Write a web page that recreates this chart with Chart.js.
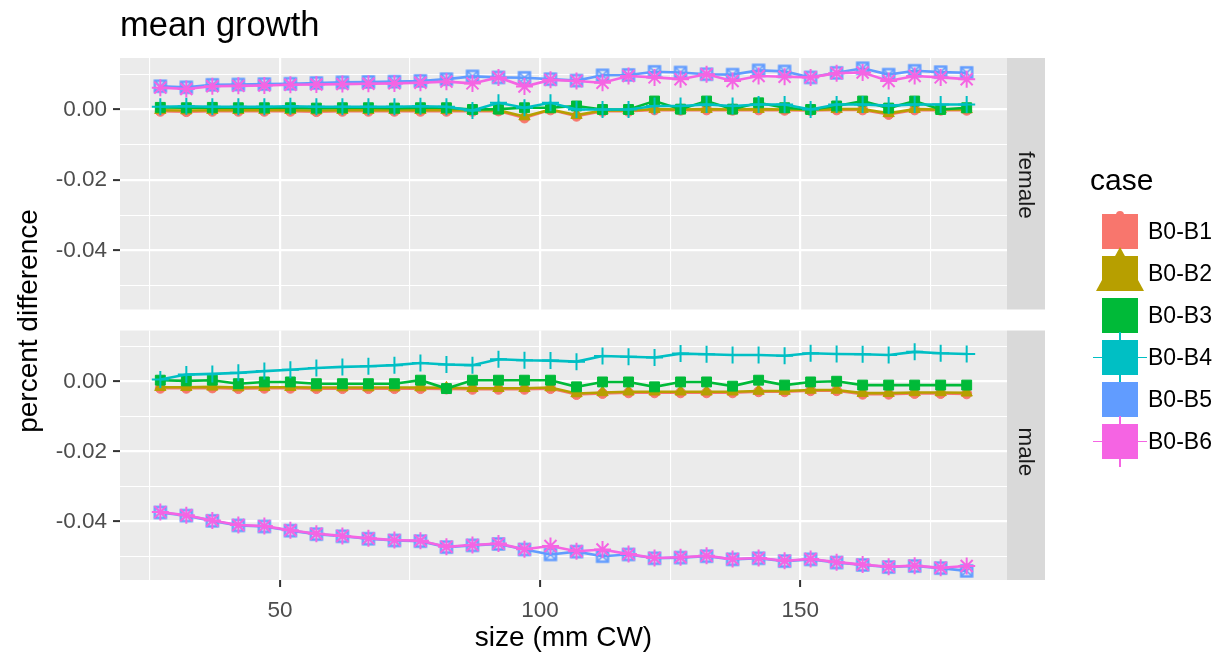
<!DOCTYPE html>
<html><head><meta charset="utf-8">
<script src="https://cdn.jsdelivr.net/npm/chart.js@4"></script>
<style>
body{margin:0;background:#fff;font-family:"Liberation Sans",Arial,Helvetica,sans-serif;}
#wrap{position:relative;width:1225px;height:660px;overflow:hidden;background:#fff;}
.abs{position:absolute;}
.rot{position:absolute;white-space:nowrap;text-align:center;}
.key{position:absolute;width:36px;height:35px;}
.lbl{position:absolute;font-size:23px;color:#000;height:35px;line-height:35px;}
</style></head><body>
<div id="wrap">
  <div class="abs" style="left:0;top:0;width:1225px;height:320px"><canvas id="cTop" width="1225" height="320"></canvas></div>
  <div class="abs" style="left:0;top:320px;width:1225px;height:340px"><canvas id="cBot" width="1225" height="340"></canvas></div>
  <div class="abs" style="left:120px;top:5px;font-size:34.5px;color:#000;">mean growth</div>
  <div class="rot" style="left:-172px;top:304px;width:400px;font-size:28px;line-height:34px;transform:rotate(-90deg);color:#000;">percent difference</div>
  <div class="rot" id="stripF" style="left:926px;top:172px;width:200px;font-size:22.5px;line-height:26px;transform:rotate(90deg);color:#1A1A1A;">female</div>
  <div class="rot" id="stripM" style="left:926px;top:439px;width:200px;font-size:22.5px;line-height:26px;transform:rotate(90deg);color:#1A1A1A;">male</div>
  <div class="abs" style="left:1090px;top:165px;font-size:30px;line-height:30px;color:#000;">case</div>
  <div id="legend"></div>
</div>
<script>
// ---------- data ----------
const sizes = [27,32,37,42,47,52,57,62,67,72,77,82,87,92,97,102,107,112,117,122,127,132,137,142,147,152,157,162,167,172,177,182];
const caseNames = ['B0-B1','B0-B2','B0-B3','B0-B4','B0-B5','B0-B6'];

const femaleB1 = [-0.0005,-0.0006,-0.0005,-0.0005,-0.0005,-0.0005,-0.0006,-0.0005,-0.0005,-0.0005,-0.0005,-0.0005,-0.0005,-0.0004,-0.0024,-0.0001,-0.0019,-0.0005,-0.0005,-0.0001,-0.0002,-0.0001,-0.0002,-0.0001,-0.0002,-0.0003,-0.0001,-0.0001,-0.0014,-0.0001,-0.0002,-0.0002];
const femaleB2 = [-0.0002,-0.0003,-0.0002,-0.0002,-0.0002,-0.0002,-0.0003,-0.0002,-0.0002,-0.0002,-0.0002,-0.0002,-0.0002,-0.0002,-0.0020,0.0000,-0.0016,-0.0003,-0.0003,0.0001,0.0000,0.0001,0.0000,0.0001,0.0000,-0.0001,0.0001,0.0001,-0.0011,0.0001,0.0000,0.0000];
const femaleB3 = [0.0006,0.0005,0.0006,0.0005,0.0005,0.0005,0.0004,0.0005,0.0005,0.0004,0.0005,0.0005,0.0000,0.0001,0.0005,0.0005,0.0010,0.0000,0.0000,0.0024,0.0001,0.0024,0.0001,0.0019,0.0005,0.0000,0.0010,0.0024,0.0004,0.0024,0.0000,0.0005];
const femaleB4 = [0.0008,0.0009,0.0008,0.0008,0.0008,0.0009,0.0008,0.0008,0.0008,0.0008,0.0009,0.0008,-0.0003,0.0019,0.0005,0.0019,0.0000,0.0000,0.0000,0.0010,0.0010,0.0014,0.0010,0.0014,0.0014,0.0000,0.0014,0.0014,0.0011,0.0014,0.0014,0.0014];
const femaleB5 = [0.0066,0.0063,0.0070,0.0071,0.0072,0.0073,0.0075,0.0077,0.0078,0.0079,0.0081,0.0086,0.0094,0.0091,0.0090,0.0086,0.0082,0.0097,0.0098,0.0107,0.0105,0.0100,0.0099,0.0111,0.0108,0.0091,0.0104,0.0117,0.0099,0.0110,0.0106,0.0104];
const femaleB6 = [0.0062,0.0058,0.0066,0.0067,0.0068,0.0070,0.0071,0.0072,0.0073,0.0074,0.0076,0.0079,0.0074,0.0091,0.0065,0.0084,0.0081,0.0076,0.0095,0.0091,0.0086,0.0100,0.0081,0.0095,0.0093,0.0091,0.0103,0.0105,0.0081,0.0095,0.0091,0.0086];

const maleB1 = [-0.0019,-0.0019,-0.0018,-0.0020,-0.0019,-0.0019,-0.0020,-0.0020,-0.0020,-0.0020,-0.0020,-0.0021,-0.0022,-0.0022,-0.0022,-0.0020,-0.0037,-0.0034,-0.0032,-0.0032,-0.0032,-0.0032,-0.0032,-0.0029,-0.0029,-0.0026,-0.0026,-0.0036,-0.0036,-0.0034,-0.0034,-0.0035];
const maleB2 = [-0.0016,-0.0016,-0.0015,-0.0017,-0.0016,-0.0016,-0.0017,-0.0017,-0.0017,-0.0017,-0.0017,-0.0018,-0.0019,-0.0019,-0.0019,-0.0017,-0.0034,-0.0031,-0.0029,-0.0029,-0.0029,-0.0029,-0.0029,-0.0027,-0.0027,-0.0024,-0.0024,-0.0033,-0.0033,-0.0031,-0.0031,-0.0032];
const maleB3 = [0.0004,0.0002,0.0004,-0.0006,-0.0001,-0.0001,-0.0006,-0.0006,-0.0006,-0.0006,0.0004,-0.0020,0.0004,0.0004,0.0004,0.0004,-0.0015,-0.0001,-0.0001,-0.0015,-0.0001,-0.0001,-0.0013,0.0004,-0.0010,-0.0001,0.0001,-0.0010,-0.0010,-0.0010,-0.0010,-0.0010];
const maleB4 = [0.0006,0.0020,0.0022,0.0025,0.0030,0.0034,0.0039,0.0042,0.0044,0.0047,0.0053,0.0049,0.0047,0.0064,0.0061,0.0060,0.0057,0.0073,0.0071,0.0069,0.0080,0.0078,0.0076,0.0076,0.0074,0.0081,0.0079,0.0078,0.0076,0.0085,0.0081,0.0079];
const maleB5 = [-0.0374,-0.0383,-0.0398,-0.0411,-0.0414,-0.0426,-0.0436,-0.0442,-0.0449,-0.0454,-0.0456,-0.0473,-0.0468,-0.0464,-0.0480,-0.0494,-0.0486,-0.0499,-0.0494,-0.0505,-0.0503,-0.0499,-0.0508,-0.0505,-0.0513,-0.0508,-0.0517,-0.0524,-0.0530,-0.0527,-0.0533,-0.0541];
const maleB6 = [-0.0373,-0.0382,-0.0397,-0.0410,-0.0413,-0.0425,-0.0435,-0.0441,-0.0448,-0.0453,-0.0455,-0.0472,-0.0467,-0.0463,-0.0479,-0.0470,-0.0485,-0.0480,-0.0493,-0.0504,-0.0502,-0.0498,-0.0507,-0.0504,-0.0512,-0.0507,-0.0516,-0.0523,-0.0529,-0.0526,-0.0532,-0.0527];

const xTickValues = [25,50,75,100,125,150,175];
const xMajorTicks = [50,100,150];
const yTickValues = [-0.05,-0.04,-0.03,-0.02,-0.01,0,0.01];
const yMajorTicks = [-0.04,-0.02,0];
const xLimits = [19.25,189.75];
const yLimits = [-0.0567,0.0146];

// ---------- styling ----------
const colors = ['#F8766D','#B79F00','#00BA38','#00BFC4','#619CFF','#F564E3'];
function squareCross(color){
  const c=document.createElement('canvas'); c.width=16; c.height=16;
  const g=c.getContext('2d'); g.strokeStyle=color; g.lineWidth=2.4;
  g.strokeRect(2.5,2.5,11,11); g.lineWidth=1.6; g.beginPath();
  g.moveTo(3,3); g.lineTo(13,13); g.moveTo(13,3); g.lineTo(3,13); g.stroke();
  return c;
}
const styles = [
  {pointStyle:'circle', pointRadius:5, pointBorderWidth:1},
  {pointStyle:'triangle', pointRadius:6.5, pointBorderWidth:1},
  {pointStyle:'rect', pointRadius:7, pointBorderWidth:1},
  {pointStyle:'cross', pointRadius:8.5, pointBorderWidth:2},
  {pointStyle:squareCross(colors[4]), pointRadius:8, pointBorderWidth:1},
  {pointStyle:'star', pointRadius:8.5, pointBorderWidth:2}
];
const near = (v, arr) => arr.some(a => Math.abs(a - v) < 1e-9);

function makeDatasets(series){
  return series.map((vals, i) => Object.assign({
    label: caseNames[i],
    data: sizes.map((s, k) => ({x: s, y: vals[k]})),
    borderColor: colors[i], backgroundColor: colors[i],
    pointBackgroundColor: colors[i], pointBorderColor: colors[i],
    borderWidth: 2.6, tension: 0, order: 6 - i, clip: false
  }, styles[i]));
}

const panelBg = {
  id: 'panelBg',
  beforeDraw(chart){
    const {ctx, chartArea: a} = chart;
    ctx.save();
    ctx.fillStyle = '#EBEBEB';
    ctx.fillRect(a.left, a.top, a.right - a.left, a.bottom - a.top);
    ctx.fillStyle = '#D9D9D9';
    ctx.fillRect(a.right, a.top, 38, a.bottom - a.top);
    ctx.restore();
  }
};

function makeOptions(isBottom){
  return {
    responsive: false, animation: false,
    layout: {padding: isBottom ? {left:0,right:218,top:5,bottom:0} : {left:0,right:218,top:58,bottom:7}},
    plugins: {legend: {display:false}, tooltip: {enabled:false}, title: {display:false}},
    scales: {
      x: {
        type: 'linear', min: xLimits[0], max: xLimits[1],
        afterBuildTicks: s => { s.ticks = xTickValues.map(v => ({value: v})); },
        afterFit: s => { s.height = isBottom ? 80 : 0; s.paddingLeft = 0; s.paddingRight = 0; },
        border: {display: false},
        grid: {
          color: '#FFFFFF',
          lineWidth: c => near(c.tick.value, xMajorTicks) ? 2.2 : 1.1,
          drawTicks: isBottom, tickLength: 7, tickWidth: 2,
          tickColor: c => near(c.tick.value, xMajorTicks) ? '#333333' : 'rgba(0,0,0,0)'
        },
        ticks: {
          display: isBottom, autoSkip: false, maxRotation: 0, padding: 10,
          color: '#4D4D4D', font: {size: 22.5, family: 'Liberation Sans'},
          callback: v => near(v, xMajorTicks) ? String(v) : ''
        },
        title: {
          display: isBottom, text: 'size (mm CW)', color: '#000',
          font: {size: 28, family: 'Liberation Sans'}, padding: {top: 0, bottom: 5}
        }
      },
      y: {
        type: 'linear', min: yLimits[0], max: yLimits[1],
        afterBuildTicks: s => { s.ticks = yTickValues.map(v => ({value: v})); },
        afterFit: s => { s.width = 120; s.paddingTop = 0; s.paddingBottom = 0; },
        border: {display: false},
        grid: {
          color: '#FFFFFF',
          lineWidth: c => near(c.tick.value, yMajorTicks) ? 2.2 : 1.1,
          tickLength: 7, tickWidth: 2,
          tickColor: c => near(c.tick.value, yMajorTicks) ? '#333333' : 'rgba(0,0,0,0)'
        },
        ticks: {
          autoSkip: false, padding: 6, color: '#4D4D4D',
          font: {size: 22.5, family: 'Liberation Sans'},
          callback: v => near(v, yMajorTicks) ? v.toFixed(2) : ''
        }
      }
    }
  };
}

new Chart(document.getElementById('cTop'), {
  type: 'line',
  data: {datasets: makeDatasets([femaleB1,femaleB2,femaleB3,femaleB4,femaleB5,femaleB6])},
  options: makeOptions(false),
  plugins: [panelBg]
});
new Chart(document.getElementById('cBot'), {
  type: 'line',
  data: {datasets: makeDatasets([maleB1,maleB2,maleB3,maleB4,maleB5,maleB6])},
  options: makeOptions(true),
  plugins: [panelBg]
});

// ---------- legend (HTML) ----------
const leg = document.getElementById('legend');
caseNames.forEach((name, i) => {
  const top = 214 + i * 42, left = 1102, col = colors[i];
  let html = '';
  if (i === 1) {
    html += `<div class="abs" style="left:${left-6}px;top:${top-9}px;width:48px;height:44px;background:${col};clip-path:polygon(50% 0,100% 100%,0 100%);"></div>`;
  }
  if (i === 0) {
    html += `<div class="abs" style="left:${left+14}px;top:${top-3}px;width:8px;height:8px;border-radius:50%;background:${col};"></div>`;
  }
  if (i === 3 || i === 5) {
    html += `<div class="abs" style="left:${left+17.25}px;top:${top-8}px;width:1.5px;height:51px;background:${col};"></div>`;
    html += `<div class="abs" style="left:${left-9}px;top:${top+16.75}px;width:54px;height:1.5px;background:${col};"></div>`;
  }
  html += `<div class="key" style="left:${left}px;top:${top}px;background:${col};"></div>`;
  html += `<div class="lbl" style="left:1148px;top:${top}px;">${name}</div>`;
  leg.insertAdjacentHTML('beforeend', html);
});
</script>
</body></html>
